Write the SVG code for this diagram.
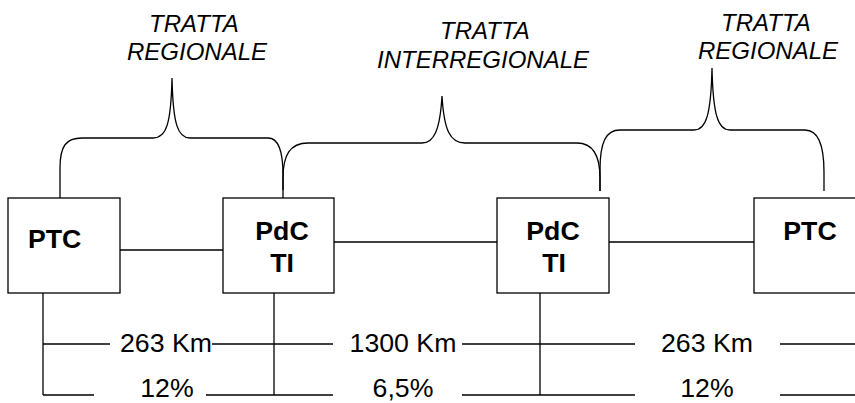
<svg xmlns="http://www.w3.org/2000/svg" width="855" height="403" viewBox="0 0 855 403">
<style>
.box{fill:#fff;stroke:#000;stroke-width:1.3}
.ln{fill:none;stroke:#000;stroke-width:1.3}
.nt{font-family:"Liberation Sans",Arial,sans-serif;font-weight:bold;font-size:26.7px;fill:#000}
.lb{font-family:"Liberation Sans",Arial,sans-serif;font-size:26.7px;fill:#000}
.tt{font-family:"Liberation Sans",Arial,sans-serif;font-style:italic;font-size:24px;fill:#000;text-anchor:middle}
</style>
<rect width="855" height="403" fill="#fff"/>
<g id="connectors">
<line class="ln" x1="120" y1="250" x2="223" y2="250"/>
<line class="ln" x1="316" y1="242" x2="497" y2="242"/>
<line class="ln" x1="609" y1="242" x2="754" y2="242"/>
<line class="ln" x1="43" y1="293" x2="43" y2="395"/>
<line class="ln" x1="274" y1="293" x2="274" y2="395"/>
<line class="ln" x1="540" y1="293" x2="540" y2="395"/>
<line class="ln" x1="43" y1="344" x2="110" y2="344"/>
<line class="ln" x1="212" y1="344" x2="333" y2="344"/>
<line class="ln" x1="462" y1="344" x2="635" y2="344"/>
<line class="ln" x1="780" y1="344" x2="855" y2="344"/>
<line class="ln" x1="43" y1="395" x2="94" y2="395"/>
<line class="ln" x1="206" y1="395" x2="333" y2="395"/>
<line class="ln" x1="462" y1="395" x2="635" y2="395"/>
<line class="ln" x1="780" y1="395" x2="855" y2="395"/>
<path class="ln" d="M60,198 L60,168 C60,146 66,138 82,138 L153,138 C166,138 171,125 172,78 C173,125 178,138 190,138 L268,138 C278,138 283,150 283,175 L283,198"/>
<path class="ln" d="M283,190 L283,178 C283,155 290,143 308,143 L422,143 C434,143 440,130 442,96 C444,130 450,143 465,143 L577,143 C592,143 600,155 600,178 L600,191"/>
<path class="ln" d="M600,191 L600,170 C600,142 606,130 620,130 L694,130 C706,130 711,115 712,68 C713,115 718,130 730,130 L805,130 C818,130 824,145 824,172 L824,191"/>
</g>
<g id="node-ptc-left">
<rect class="box" x="8" y="198" width="112" height="95"/>
<text class="nt" x="28" y="248">PTC</text>
</g>
<g id="node-pdc-1">
<rect class="box" x="223" y="198" width="111" height="95"/>
<text class="nt" x="282" y="240" text-anchor="middle">PdC</text>
<text class="nt" x="282" y="272" text-anchor="middle">TI</text>
</g>
<g id="node-pdc-2">
<rect class="box" x="497" y="198" width="112" height="95"/>
<text class="nt" x="553" y="240" text-anchor="middle">PdC</text>
<text class="nt" x="554" y="272" text-anchor="middle">TI</text>
</g>
<g id="node-ptc-right">
<rect class="box" x="754" y="198" width="120" height="95"/>
<text class="nt" x="810" y="240" text-anchor="middle">PTC</text>
</g>
<g id="labels">
<text class="lb" x="166" y="352" text-anchor="middle">263 Km</text>
<text class="lb" x="403" y="352" text-anchor="middle">1300 Km</text>
<text class="lb" x="707" y="352" text-anchor="middle">263 Km</text>
<text class="lb" x="167" y="397" text-anchor="middle">12%</text>
<text class="lb" x="403" y="397" text-anchor="middle">6,5%</text>
<text class="lb" x="707" y="397" text-anchor="middle">12%</text>
<text class="tt" x="194" y="32">TRATTA</text>
<text class="tt" x="197" y="60">REGIONALE</text>
<text class="tt" x="485" y="39">TRATTA</text>
<text class="tt" x="483" y="68">INTERREGIONALE</text>
<text class="tt" x="766" y="31">TRATTA</text>
<text class="tt" x="768" y="59">REGIONALE</text>
</g>
</svg>
